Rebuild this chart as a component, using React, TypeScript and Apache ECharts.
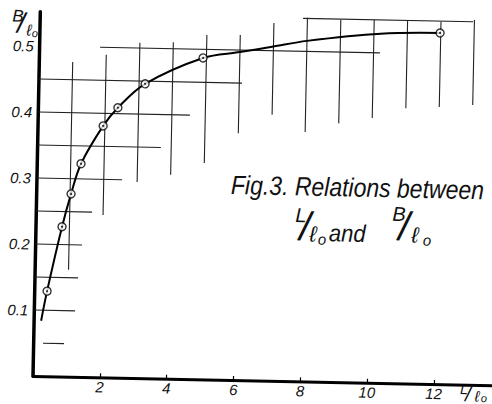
import React, { useEffect, useRef } from "react";
import * as echarts from "echarts";

// ---- data ----
// measured points (circles): L/l0 and B/l0
const pointX = [0.37, 0.78, 1.03, 1.31, 1.95, 2.38, 3.18, 4.9, 11.98];
const pointY = [0.129, 0.227, 0.277, 0.323, 0.381, 0.409, 0.446, 0.487, 0.532];
// hand-drawn curve
const curveX = [0.21, 0.37, 0.78, 1.03, 1.31, 1.95, 2.38, 3.18, 4.9, 6.0, 6.96, 8.0, 10.2, 11.98];
const curveY = [0.084, 0.129, 0.227, 0.277, 0.323, 0.381, 0.409, 0.446, 0.487, 0.497, 0.506, 0.516, 0.529, 0.532];
// partial horizontal ruling lines: level, start, end (in L/l0)
const hLevel = [0.05, 0.1, 0.15, 0.2, 0.25, 0.3, 0.35, 0.4, 0.45, 0.5, 0.55];
const hFrom = [0.28, 0, 0, 0, 0, 0, 0, 0, 0, 1.81, 7.87];
const hTo = [0.91, 1.22, 1.29, 1.39, 1.67, 2.55, 3.69, 4.54, 6.08, 10.19, 12.96];
// partial vertical ruling lines: position, lower end, upper end (in B/l0)
const vPos = [1, 2, 3, 4, 5, 6, 7, 8, 9, 10, 11, 12, 13];
const vFrom = [0.162, 0.246, 0.297, 0.309, 0.328, 0.374, 0.403, 0.378, 0.392, 0.401, 0.417, 0.42, 0.424];
const vTo = [0.477, 0.489, 0.508, 0.51, 0.522, 0.523, 0.542, 0.551, 0.549, 0.55, 0.55, 0.549, 0.553];
// tick labels
const xTickLabels = [2, 4, 6, 8, 10, 12];
const yTickLabels = [0.1, 0.2, 0.3, 0.4, 0.5];

// ---- layout ----
const ROT_DEG = 1.15;
const OX = 33;
const OY = 376;
const XPX = 33.4;
const YPX = 660;
const XMAX = 14;
const YMAX = 0.552;
const FONT = "Liberation Sans";

const th = (ROT_DEG * Math.PI) / 180;
// convert a picture position into the (unrotated) chart div position
function toDiv(px: number, py: number): [number, number] {
  const a = px - OX;
  const b = py - OY;
  return [OX + a * Math.cos(th) + b * Math.sin(th), OY - a * Math.sin(th) + b * Math.cos(th)];
}

function txt(s: string, px: number, py: number, size: number, align = "center", sy = 1) {
  const [x, y] = toDiv(px, py);
  return {
    type: "text",
    x,
    y,
    scaleY: sy,
    silent: true,
    style: {
      text: s,
      fill: "#111",
      fontSize: size,
      fontStyle: "italic",
      fontFamily: FONT,
      align,
      verticalAlign: "middle",
    },
  };
}

export default function App() {
  const ref = useRef<HTMLDivElement>(null);

  useEffect(() => {
    if (!ref.current) return;
    const chart = echarts.init(ref.current, null, { renderer: "svg" });

    const rule = { color: "#222", width: 1.1 };
    const series: any[] = [];
    hLevel.forEach((y, i) => {
      series.push({
        type: "line",
        data: [
          [hFrom[i], y],
          [hTo[i], y],
        ],
        symbol: "none",
        silent: true,
        z: 1,
        lineStyle: rule,
      });
    });
    vPos.forEach((x, i) => {
      series.push({
        type: "line",
        data: [
          [x, vFrom[i]],
          [x, vTo[i]],
        ],
        symbol: "none",
        silent: true,
        z: 1,
        lineStyle: rule,
      });
    });
    series.push({
      type: "line",
      data: curveX.map((x, i) => [x, curveY[i]]),
      smooth: 0.35,
      symbol: "none",
      silent: true,
      z: 3,
      lineStyle: { color: "#000", width: 2 },
    });
    series.push({
      type: "scatter",
      data: pointX.map((x, i) => [x, pointY[i]]),
      symbol: "circle",
      symbolSize: 8,
      silent: true,
      z: 5,
      itemStyle: { color: "#fff", borderColor: "#000", borderWidth: 1.4 },
    });
    series.push({
      type: "scatter",
      data: pointX.map((x, i) => [x, pointY[i]]),
      symbol: "circle",
      symbolSize: 2.2,
      silent: true,
      z: 6,
      itemStyle: { color: "#000" },
    });

    const graphic: any[] = [
      // y-axis name B/l0
      txt("B", 18, 16, 17),
      txt("/", 21, 23, 28),
      txt("ℓ", 29, 30, 16),
      txt("o", 35, 33, 11),
      // x-axis name L/l0
      txt("L", 464, 389, 14),
      txt("/", 468, 394, 20),
      txt("ℓ", 477, 396, 15),
      txt("o", 484, 398, 11),
      // caption
      txt("Fig.3. Relations between", 231, 185, 23, "left", 1.15),
      txt("L", 301, 215, 20),
      txt("/", 305, 226, 40),
      txt("ℓ", 313, 234, 22),
      txt("o", 322, 239, 15),
      txt("and", 329, 233, 22, "left", 1.1),
      txt("B", 399, 214, 20),
      txt("/", 404, 226, 40),
      txt("ℓ", 415, 235, 22),
      txt("o", 427, 240, 15),
    ];

    chart.setOption({
      animation: false,
      backgroundColor: "#fff",
      grid: {
        left: OX,
        top: OY - YMAX * YPX,
        width: XMAX * XPX,
        height: YMAX * YPX,
        containLabel: false,
        outerBoundsMode: "none",
      },
      xAxis: {
        type: "value",
        min: 0,
        max: XMAX,
        interval: 2,
        axisLine: { show: true, onZero: false, lineStyle: { color: "#000", width: 3 } },
        axisTick: { show: true, inside: true, length: 4, lineStyle: { color: "#000", width: 1.2 } },
        splitLine: { show: false },
        axisLabel: {
          margin: 2,
          color: "#111",
          fontFamily: FONT,
          fontStyle: "italic",
          fontSize: 15,
          formatter: (v: number) => (xTickLabels.indexOf(v) >= 0 ? String(v) : ""),
        },
      },
      yAxis: {
        type: "value",
        min: 0,
        max: YMAX,
        interval: 0.1,
        axisLine: { show: true, onZero: false, lineStyle: { color: "#000", width: 3.5 } },
        axisTick: { show: false },
        splitLine: { show: false },
        axisLabel: {
          margin: 6,
          color: "#111",
          fontFamily: FONT,
          fontStyle: "italic",
          fontSize: 15,
          showMaxLabel: false,
          formatter: (v: number) => {
            const r = Math.round(v * 10) / 10;
            return yTickLabels.indexOf(r) >= 0 && Math.abs(v - r) < 1e-6 ? r.toFixed(1) : "";
          },
        },
      },
      series,
      graphic,
    });

    return () => chart.dispose();
  }, []);

  return (
    <div
      style={{
        position: "fixed",
        left: 0,
        top: 0,
        width: 492,
        height: 404,
        overflow: "hidden",
        background: "#fff",
      }}
    >
      <div
        ref={ref}
        style={{
          position: "absolute",
          left: 0,
          top: 0,
          width: 540,
          height: 420,
          transform: `rotate(${ROT_DEG}deg)`,
          transformOrigin: `${OX}px ${OY}px`,
        }}
      />
    </div>
  );
}
